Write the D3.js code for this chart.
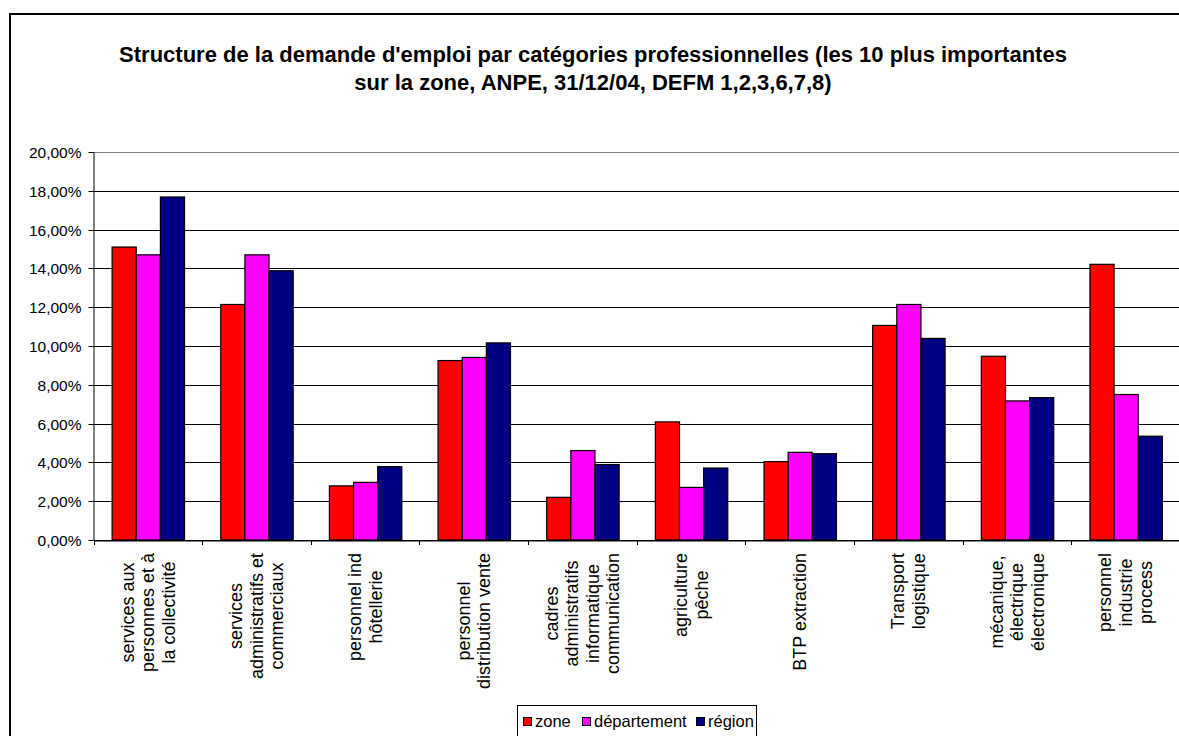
<!DOCTYPE html>
<html>
<head>
<meta charset="utf-8">
<script src="https://cdn.jsdelivr.net/npm/d3@7"></script>
<style>
  html, body { margin: 0; padding: 0; background: #fff; }
  svg { display: block; }
  text { font-family: "Liberation Sans", Arial, sans-serif; fill: #000; }
</style>
</head>
<body>
<svg id="chart" width="1179" height="736"></svg>
<script>
// ---- data ----
const titleLines = [
  "Structure de la demande d'emploi par catégories professionnelles (les 10 plus importantes",
  "sur la zone, ANPE, 31/12/04, DEFM 1,2,3,6,7,8)"
];
const categories = [
  "services aux personnes et à la collectivité",
  "services administratifs et commerciaux",
  "personnel ind hôtellerie",
  "personnel distribution vente",
  "cadres administratifs informatique communication",
  "agriculture pêche",
  "BTP extraction",
  "Transport logistique",
  "mécanique, électrique électronique",
  "personnel industrie process"
];
const categoryLines = [
  ["services aux", "personnes et à", "la collectivité"],
  ["services", "administratifs et", "commerciaux"],
  ["personnel ind", "hôtellerie"],
  ["personnel", "distribution vente"],
  ["cadres", "administratifs", "informatique", "communication"],
  ["agriculture", "pêche"],
  ["BTP extraction"],
  ["Transport", "logistique"],
  ["mécanique,", "électrique", "électronique"],
  ["personnel", "industrie", "process"]
];
const seriesNames = ["zone", "département", "région"];
const zone        = [15.10, 12.14, 2.79, 9.25, 2.20, 6.09, 4.04, 11.06, 9.47, 14.21];
const departement = [14.70, 14.70, 2.97, 9.41, 4.61, 2.71, 4.52, 12.14, 7.17, 7.50];
const region      = [17.68, 13.88, 3.78, 10.16, 3.89, 3.71, 4.45, 10.39, 7.34, 5.35];
const seriesColors = ["#FF0000", "#FF00FF", "#000080"];
const yTicks = [0, 2, 4, 6, 8, 10, 12, 14, 16, 18, 20];

const seriesValues = [zone, departement, region];

// ---- layout ----
const svg = d3.select("#chart");
const plot = { left: 93.5, right: 1180, top: 152, bottom: 540 };

// outer frame
svg.append("rect")
  .attr("x", 10).attr("y", 14)
  .attr("width", 1200).attr("height", 800)
  .attr("fill", "none").attr("stroke", "#000").attr("stroke-width", 2);

// title
const title = svg.append("text")
  .attr("text-anchor", "middle")
  .style("font-weight", "bold").style("font-size", "22px");
titleLines.forEach((t, i) => {
  title.append("tspan").attr("x", 593).attr("y", 62 + i * 28).text(t);
});

const fr = d3.formatLocale({ decimal: ",", thousands: " ", grouping: [3], currency: ["", "€"] });
const fmt = fr.format(".2f");

const y = d3.scaleLinear().domain([0, 20]).range([plot.bottom, plot.top]);
const x = d3.scaleBand().domain(categories).range([plot.left, plot.right])
  .paddingInner(1 / 3).paddingOuter(1 / 6);
const xs = d3.scaleBand().domain(seriesNames).range([0, x.bandwidth()]).padding(0);

// gridlines
svg.append("g").selectAll("line").data(yTicks).join("line")
  .attr("x1", plot.left).attr("x2", plot.right)
  .attr("y1", d => Math.round(y(d)) + 0.5).attr("y2", d => Math.round(y(d)) + 0.5)
  .attr("stroke", d => d === 20 ? "#808080" : "#000").attr("stroke-width", 1);

// y axis
const yAxis = d3.axisLeft(y).tickValues(yTicks).tickSize(5).tickPadding(7)
  .tickFormat(d => fmt(d) + "%");
const yg = svg.append("g").attr("transform", `translate(${plot.left},0)`).call(yAxis);
yg.select(".domain").attr("stroke", "#000").attr("d", `M0.5,${plot.top}V${plot.bottom}`);
yg.selectAll(".tick line").attr("stroke", "#000");
yg.selectAll(".tick").attr("transform", d => `translate(0,${Math.round(y(d)) + 0.5})`);
yg.selectAll(".tick text").style("font-size", "15.5px").attr("font-family", null).attr("dy", "0.36em");

// bars
const groups = svg.append("g").selectAll("g").data(categories).join("g")
  .attr("transform", d => `translate(${x(d)},0)`);
groups.selectAll("rect")
  .data((d, i) => seriesNames.map((s, k) => ({ s, k, v: seriesValues[k][i] })))
  .join("rect")
  .attr("x", d => xs(d.s) + 0.5)
  .attr("width", xs.bandwidth())
  .attr("y", d => y(d.v))
  .attr("height", d => y(0) - y(d.v))
  .attr("fill", d => seriesColors[d.k])
  .attr("stroke", "#000").attr("stroke-width", 1.2);

// x axis line & boundary ticks
const xAxis = d3.axisBottom(x).tickSize(0).tickFormat("");
const xg = svg.append("g").attr("transform", `translate(0,${plot.bottom + 0.5})`).call(xAxis);
xg.select(".domain").attr("stroke", "#000");
const step = x.step();
const bounds = d3.range(categories.length + 1).map(i => plot.left + i * step);
svg.append("g").selectAll("line").data(bounds).join("line")
  .attr("x1", d => Math.round(d) + 0.5).attr("x2", d => Math.round(d) + 0.5)
  .attr("y1", plot.bottom).attr("y2", plot.bottom + 5)
  .attr("stroke", "#000");

// category labels (rotated, multi-line, centered)
const fs = 18, lh = 20.5;
const lab = svg.append("g").selectAll("g").data(categories).join("g")
  .attr("transform", d => `translate(${x(d) + x.bandwidth() / 2},${plot.bottom}) rotate(-90)`);
lab.each(function (d, i) {
  const g = d3.select(this);
  const lines = categoryLines[i];
  const n = lines.length;
  const ts = lines.map((t, j) => g.append("text")
    .attr("text-anchor", "middle")
    .style("font-size", fs + "px")
    .attr("y", (j - (n - 1) / 2) * lh + 0.35 * fs)
    .text(t));
  const maxLen = d3.max(ts, t => t.node().getComputedTextLength());
  ts.forEach(t => t.attr("x", -(13 + maxLen / 2)));
});

// legend
const lgX = 517.5, lgY = 705.5;
svg.append("rect").attr("x", lgX).attr("y", lgY).attr("width", 239).attr("height", 50)
  .attr("fill", "#fff").attr("stroke", "#000").attr("stroke-width", 1);
const legendX = [523, 582, 696];
seriesNames.forEach((s, k) => {
  svg.append("rect").attr("x", legendX[k] + 0.5).attr("y", 717.5).attr("width", 8).attr("height", 8)
    .attr("fill", seriesColors[k]).attr("stroke", "#000").attr("stroke-width", 1);
  svg.append("text").attr("x", legendX[k] + 12).attr("y", 727)
    .style("font-size", "16.5px").text(s);
});
</script>
</body>
</html>
